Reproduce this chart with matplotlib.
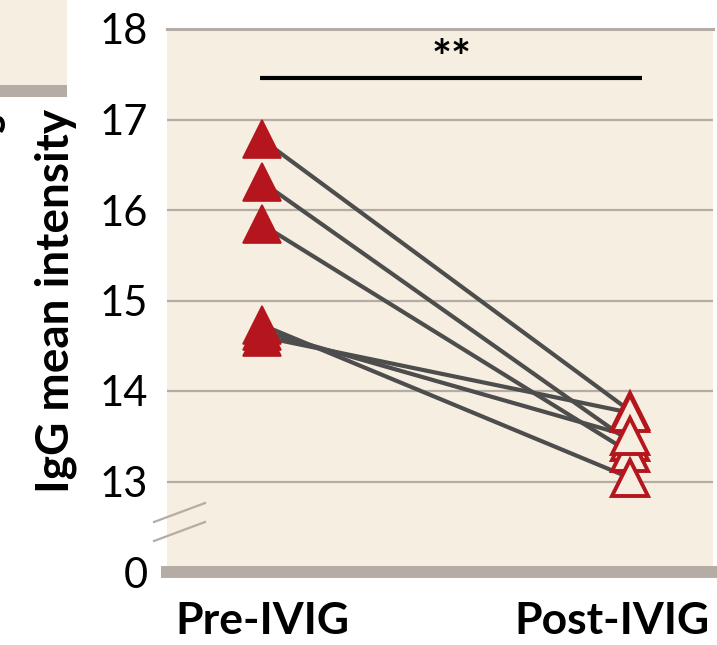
import numpy as np
import matplotlib
matplotlib.use("Agg")
import matplotlib.pyplot as plt
import matplotlib.transforms as mtransforms
from matplotlib.patches import Rectangle

# ---- data ----
groups = ["Pre-IVIG", "Post-IVIG"]
pre_vals = [16.78, 16.31, 15.84, 14.60, 14.66, 14.73]
post_vals = [13.78, 13.44, 13.32, 13.76, 13.50, 13.04]
y_ticks = [0, 13, 14, 15, 16, 17, 18]
sig_label = "**"
sig_y = 17.46
ylabel = "IgG mean intensity"

BEIGE = "#f6eee0"
GRAY = "#b5aca5"
RED = "#b5161e"
LINE = "#4d4d4d"

plt.rcParams['font.family'] = ['Lato', 'DejaVu Sans']

fig = plt.figure(figsize=(7.17, 6.45), dpi=100)

# partial neighbour panel at top-left (cut off)
fig.patches.append(Rectangle((0, 1 - 85/645), 67/717, 85/645, transform=fig.transFigure,
                             facecolor=BEIGE, edgecolor='none', zorder=0))
fig.patches.append(Rectangle((0, 1 - 97/645), 67/717, 12/645, transform=fig.transFigure,
                             facecolor=GRAY, edgecolor='none', zorder=0))
fig.text(-8/717, 1 - 122/645, "s", rotation=90, fontsize=32, fontweight='bold',
         ha='center', va='center')

ax = fig.add_axes([167/717, 1 - 572/645, (713 - 167)/717, (572 - 29)/645])
ax.set_facecolor(BEIGE)

# broken y-axis: 0..13 compressed into one unit
def fwd(v):
    v = np.asarray(v, dtype=float)
    return np.where(v >= 13, v, 12 + v / 13.0)

def inv(u):
    u = np.asarray(u, dtype=float)
    return np.where(u >= 13, u, (u - 12) * 13.0)

ax.set_yscale('function', functions=(fwd, inv))
ax.set_ylim(0, 18)
ax.set_xlim(-0.258, 1.2255)

for v in [13, 14, 15, 16, 17]:
    ax.axhline(v, color=GRAY, lw=1.6, zorder=1)

x = np.arange(len(groups))
for a, b in zip(pre_vals, post_vals):
    ax.plot(x, [a, b], color=LINE, lw=3, zorder=2, solid_capstyle='butt')

ax.plot(np.zeros(len(pre_vals)), pre_vals, linestyle='none', marker='^', ms=27,
        mfc=RED, mec=RED, mew=1.2, zorder=3)
ax.plot(np.ones(len(post_vals)), post_vals, linestyle='none', marker='^', ms=26,
        mfc=BEIGE, mec=RED, mew=2.8, zorder=4)

# significance bar
ax.plot([-0.005, 1.033], [sig_y, sig_y], color='black', lw=3, zorder=3, solid_capstyle='butt')
ax.text(0.515, 17.66, sig_label, ha='center', va='center', fontsize=34, fontweight='bold')

# spines
for s in ['left', 'right']:
    ax.spines[s].set_visible(False)
ax.spines['top'].set_color(GRAY)
ax.spines['top'].set_linewidth(2.2)
ax.spines['bottom'].set_color(GRAY)
ax.spines['bottom'].set_linewidth(8.6)

ax.set_yticks(y_ticks)
ax.set_yticklabels([str(t) for t in y_ticks])
ax.yaxis.set_minor_locator(matplotlib.ticker.NullLocator())
ax.tick_params(axis='y', length=0, pad=14, labelsize=30, labelcolor='black')
for lab in ax.get_yticklabels():
    lab.set_fontweight('normal')

ax.set_xticks(x)
ax.set_xticklabels(groups, fontsize=32, fontweight='bold')
ax.tick_params(axis='x', length=0, pad=21)
labs = ax.get_xticklabels()
labs[1].set_transform(labs[1].get_transform() +
                      mtransforms.ScaledTranslation(-0.18, 0, fig.dpi_scale_trans))

ax.set_ylabel(ylabel, fontsize=33, fontweight='bold', labelpad=16)

# axis break marks
for y0, y1 in [(0.0921, 0.127), (0.0571, 0.0921)]:
    ax.plot([-0.0238, 0.0696], [y0, y1], transform=ax.transAxes, color=GRAY,
            lw=1.6, clip_on=False, zorder=5)

fig.savefig("out.png", dpi=100)
